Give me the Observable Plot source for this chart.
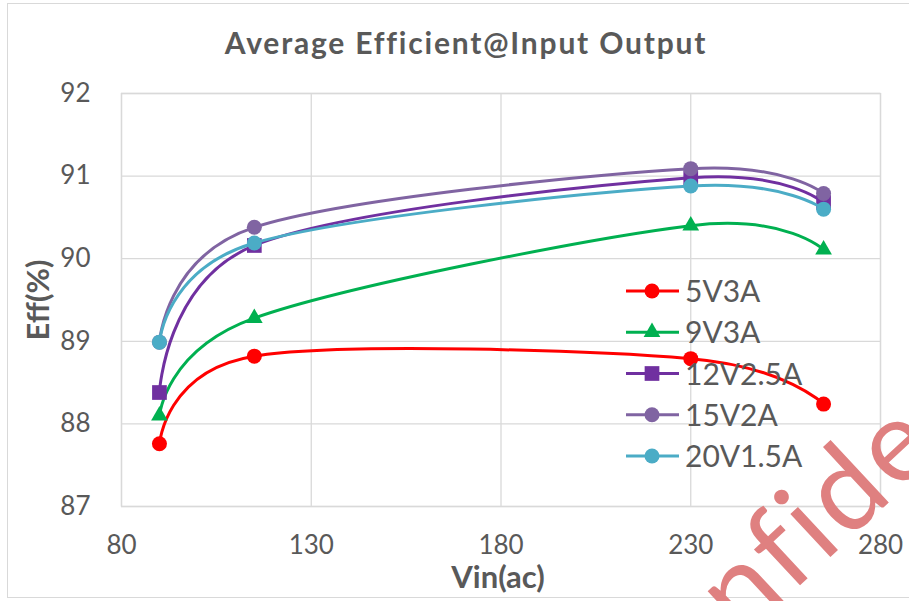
<!DOCTYPE html>
<html>
<head>
<meta charset="utf-8">
<script src="https://cdn.jsdelivr.net/npm/d3@7"></script>
<script src="https://cdn.jsdelivr.net/npm/@observablehq/plot@0.6"></script>
<style>
  body { margin: 0; background: #fff; }
  #chart { position: relative; width: 909px; height: 601px; overflow: hidden; font-family: Lato, "Open Sans", sans-serif; color: #595959; }
  #border { position: absolute; left: 7px; top: 3px; width: 940px; height: 595px; border: 1.5px solid #d9d9d9; box-sizing: border-box; }
  #chart svg { position: absolute; left: 0; top: 0; }
</style>
</head>
<body>
<div id="chart"><div id="border"></div></div>
<script>
// Input voltage (Vac) at which efficiency was measured
const vinAC = [90, 115, 230, 265];

// Average efficiency (%) per output setting
const seriesNames = ["5V3A", "9V3A", "12V2.5A", "15V2A", "20V1.5A"];
const eff5V3A   = [87.76, 88.82, 88.79, 88.24];
const eff9V3A   = [88.10, 89.28, 90.40, 90.11];
const eff12V25A = [88.38, 90.16, 90.98, 90.68];
const eff15V2A  = [88.99, 90.38, 91.09, 90.79];
const eff20V15A = [88.99, 90.19, 90.88, 90.60];

const xTicks = [80, 130, 180, 230, 280];
const yTicks = [87, 88, 89, 90, 91, 92];

const seriesColors  = ["#ff0000", "#00b050", "#7030a0", "#8064a2", "#4bacc6"];
const seriesSymbols = ["circle", "triangle", "square", "circle", "circle"];
const symbolRadius  = { circle: 7.5, triangle: 6.2, square: 8.3 };

const seriesValues = [eff5V3A, eff9V3A, eff12V25A, eff15V2A, eff20V15A];
const series = seriesNames.map((name, i) => ({
  name,
  color: seriesColors[i],
  symbol: seriesSymbols[i],
  rows: vinAC.map((v, j) => ({ vin: v, eff: seriesValues[i][j] }))
}));

const grid = { stroke: "#d9d9d9", strokeOpacity: 1, strokeWidth: 1.3 };

const marks = [
  Plot.gridX(xTicks, grid),
  Plot.gridY(yTicks, grid),
  Plot.frame({ stroke: "#d9d9d9", strokeWidth: 1.3 }),
  Plot.axisX(xTicks, { tickSize: 0, tickPadding: 29, tickFormat: d3.format("d"), label: null }),
  Plot.axisY(yTicks, { tickSize: 0, tickPadding: 31, tickFormat: d3.format("d"), label: null })
];
for (const s of series) {
  marks.push(Plot.line(s.rows, { x: "vin", y: "eff", stroke: s.color, strokeWidth: 3, curve: "cardinal" }));
  marks.push(Plot.dot(s.rows, { x: "vin", y: "eff", symbol: s.symbol, r: symbolRadius[s.symbol], fill: s.color, stroke: "none" }));
}

const plot = Plot.plot({
  width: 909,
  height: 601,
  marginTop: 93,
  marginBottom: 95,
  marginLeft: 121,
  marginRight: 29,
  x: { domain: [80, 280], ticks: xTicks },
  y: { domain: [87, 92], ticks: yTicks },
  style: { fontFamily: "Lato, 'Open Sans', sans-serif", fontSize: "26px", color: "#595959", background: "transparent", overflow: "visible" },
  marks
});
const chart = document.getElementById("chart");
chart.appendChild(plot);

// Titles, legend and watermark layered over the plot
const over = d3.select(chart).append("svg")
  .attr("width", 909).attr("height", 601)
  .style("font-family", "Lato, 'Open Sans', sans-serif");

over.append("text")
  .attr("x", 466).attr("y", 54)
  .attr("text-anchor", "middle")
  .attr("font-size", 30).attr("font-weight", 700).attr("fill", "#595959")
  .attr("letter-spacing", 1.8)
  .text("Average Efficient@Input Output");

over.append("text")
  .attr("transform", "translate(49,300) rotate(-90)")
  .attr("text-anchor", "middle")
  .attr("font-size", 31).attr("font-weight", 700).attr("fill", "#595959")
  .text("Eff(%)");

over.append("text")
  .attr("x", 498).attr("y", 588)
  .attr("text-anchor", "middle")
  .attr("font-size", 31).attr("font-weight", 700).attr("fill", "#595959")
  .text("Vin(ac)");

const legend = over.append("g");
series.forEach((s, i) => {
  const y = 291 + i * 41.25;
  const row = legend.append("g").attr("transform", `translate(0,${y})`);
  row.append("line").attr("x1", 626).attr("x2", 679).attr("stroke", s.color).attr("stroke-width", 3);
  const r = symbolRadius[s.symbol];
  const sym = { circle: d3.symbolCircle, triangle: d3.symbolTriangle, square: d3.symbolSquare }[s.symbol];
  row.append("path")
    .attr("transform", "translate(652,0)")
    .attr("d", d3.symbol(sym, r * r * Math.PI)())
    .attr("fill", s.color);
  row.append("text")
    .attr("x", 685).attr("y", 11)
    .attr("font-size", 30).attr("fill", "#595959")
    .text(s.name);
});

over.append("text")
  .attr("transform", "translate(632,742) rotate(-43)")
  .attr("font-size", 116).attr("fill", "#df8080")
  .attr("letter-spacing", 4)
  .text("Confidential");
</script>
</body>
</html>
